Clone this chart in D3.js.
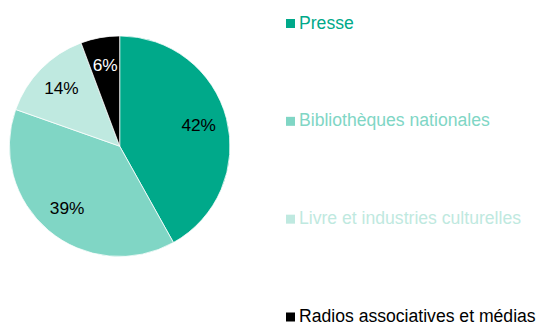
<!DOCTYPE html>
<html><head><meta charset="utf-8">
<script src="https://cdn.jsdelivr.net/npm/d3@7"></script>
<style>html,body{margin:0;padding:0;background:#fff;}svg{display:block;}</style>
</head><body>
<svg id="chart" width="542" height="325"></svg>
<script>
const categories = ["Presse", "Bibliothèques nationales", "Livre et industries culturelles", "Radios associatives et médias"];
const values = [41.9, 38.5, 13.9, 5.7];
const valueLabels = ["42%", "39%", "14%", "6%"];
const colors = ["#00A98A", "#80D6C5", "#BFE9E0", "#000000"];
const labelColors = ["#000000", "#000000", "#000000", "#ffffff"];

const svg = d3.select("#chart");
const font = "'Liberation Sans', Arial, sans-serif";
const cx = 119.7, cy = 146.2, r = 110.3;

const pie = d3.pie().sort(null).value(d => d)(values);
const arc = d3.arc().innerRadius(0).outerRadius(r);
const labelArc = d3.arc().innerRadius(r * 0.74).outerRadius(r * 0.74);

const g = svg.append("g").attr("transform", `translate(${cx},${cy})`);
g.selectAll("path").data(pie).join("path")
  .attr("d", arc)
  .attr("fill", (d, i) => colors[i])
  .attr("stroke", "#fff").attr("stroke-width", 0.75);

g.selectAll("text").data(pie).join("text")
  .attr("transform", d => `translate(${labelArc.centroid(d)})`)
  .attr("text-anchor", "middle").attr("dy", "0.3em")
  .attr("font-family", font).attr("font-size", 17.3)
  .attr("fill", (d, i) => labelColors[i])
  .text((d, i) => valueLabels[i]);

const ly = d3.scalePoint().domain(categories).range([28, 321.5]);
const leg = svg.append("g");
const items = leg.selectAll("g").data(categories).join("g")
  .attr("transform", d => `translate(286,${ly(d)})`);
items.append("rect").attr("x", 0).attr("y", -9).attr("width", 9).attr("height", 9)
  .attr("fill", (d, i) => colors[i]);
items.append("text").attr("x", 13).attr("y", 0.5)
  .attr("font-family", font).attr("font-size", 17.6)
  .attr("fill", (d, i) => colors[i])
  .text(d => d);
</script>
</body></html>
